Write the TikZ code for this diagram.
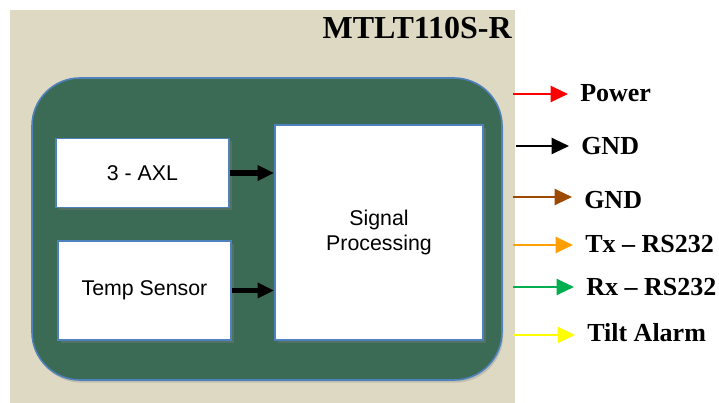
\documentclass[tikz,border=0pt]{standalone}
\usepackage{fontspec}
\setmainfont{Liberation Serif}
\setsansfont{Liberation Sans}
\usepackage{xcolor}
\usetikzlibrary{positioning}
\usetikzlibrary{arrows.meta}
\usetikzlibrary{shadows}
\definecolor{beige}{RGB}{221,217,195}
\definecolor{boardgreen}{RGB}{59,106,85}
\definecolor{edgeblue}{RGB}{79,129,189}
\definecolor{wirebrown}{RGB}{156,74,0}
\definecolor{wireorange}{RGB}{255,160,0}
\definecolor{wiregreen}{RGB}{0,176,80}
\definecolor{wireyellow}{RGB}{255,255,0}
\tikzset{unitbox/.style={draw=edgeblue, line width=1.2pt, fill=white,
font=\sffamily\fontsize{16}{19}\selectfont, align=center,
drop shadow={opacity=0.35, shadow xshift=2pt, shadow yshift=-2pt}},
feed/.style={-{Triangle[length=12.5pt, width=11pt]}, line width=3.8pt},
wire/.style={-{Triangle[length=13pt, width=12pt]}, line width=1.6pt, shorten >=9pt},
pinlabel/.style={anchor=west, inner sep=0pt, font=\bfseries\fontsize{19.5}{23}\selectfont}}

\begin{document}
\begin{tikzpicture}[x=0.75pt, y=-0.75pt]
	\useasboundingbox (0,0) rectangle (719,403);
	\fill[beige] (10,10) rectangle (515,403);
	\node[anchor=east, inner sep=0pt, font=\bfseries\fontsize{24}{28}\selectfont] (title) at (512,28) {MTLT110S-R};
	% board
	\node[draw=edgeblue, line width=1.2pt, fill=boardgreen, rounded corners=36pt,
		minimum width=352.5pt, minimum height=226.5pt,
		drop shadow={opacity=0.3, shadow xshift=1pt, shadow yshift=-2pt}] (board) at (267,229) {};
	% blocks
	\node[unitbox, minimum width=129.75pt, minimum height=51.75pt] (axl) at (142.5,173) {3 - AXL};
	\node[unitbox, minimum width=129.75pt, minimum height=74.25pt] (temp) at (144.5,290.5) {Temp Sensor};
	\node[unitbox, minimum width=156pt, minimum height=161.25pt] (sp) at (379,232.5) {Signal\\Processing};
	\draw[feed] (axl.east) -- (axl.east -| sp.west);
	\draw[feed] (temp.east) -- (temp.east -| sp.west);
	% outputs
	\coordinate (p1) at (513,94);
	\coordinate (p2) at (516,146);
	\coordinate (p3) at (513,197);
	\coordinate (p4) at (513,245);
	\coordinate (p5) at (513,287);
	\coordinate (p6) at (513,335);
	\node[pinlabel] (power) at (580,93) {Power};
	\node[pinlabel] (gnda) at (581,146) {GND};
	\node[pinlabel] (gndb) at (584,200) {GND};
	\node[pinlabel] (tx) at (585,244) {Tx -- RS232};
	\node[pinlabel] (rx) at (586,287) {Rx -- RS232};
	\node[pinlabel] (tilt) at (587,333) {Tilt Alarm};
	\draw[wire, red] (p1) -- (p1 -| power.west);
	\draw[wire, black] (p2) -- (p2 -| gnda.west);
	\draw[wire, wirebrown] (p3) -- (p3 -| gndb.west);
	\draw[wire, wireorange] (p4) -- (p4 -| tx.west);
	\draw[wire, wiregreen] (p5) -- (p5 -| rx.west);
	\draw[wire, wireyellow] (p6) -- (p6 -| tilt.west);
\end{tikzpicture}
\end{document}
